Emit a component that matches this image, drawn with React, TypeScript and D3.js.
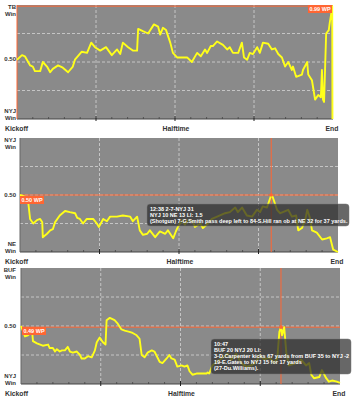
import React from "react";
import * as d3 from "d3";

// Panel 1: TB vs NYJ (minutes, TB win probability)
const tbMin = [0, 0.95, 1.5, 2.5, 3.0, 3.4, 4.4, 4.9, 5.7, 6.3, 6.8, 7.8, 8.7, 9.7, 10.6, 11.0, 12.3, 13.3, 14.1, 14.8, 15.8, 16.9, 18.0, 19.0, 19.6, 20.1, 21.1, 22.0, 22.8, 23.0, 23.9, 24.9, 26.0, 26.8, 27.2, 27.7, 28.3, 29.1, 29.6, 30.4, 31.3, 32.3, 33.2, 34.2, 34.9, 35.7, 36.1, 36.8, 37.2, 38.0, 39.1, 39.9, 40.4, 41.0, 42.0, 42.7, 43.1, 43.7, 44.2, 44.8, 45.6, 46.1, 46.7, 47.7, 48.4, 49.0, 49.6, 50.3, 50.9, 51.5, 52.2, 52.4, 53.0, 54.1, 54.3, 55.1, 55.3, 56.0, 56.6, 57.2, 57.7, 57.9, 58.1, 58.3, 58.7, 59.2, 59.4, 59.8, 59.85, 59.9];
const tbWp = [0.52, 0.56, 0.55, 0.47, 0.46, 0.42, 0.42, 0.50, 0.46, 0.41, 0.44, 0.47, 0.45, 0.41, 0.46, 0.52, 0.59, 0.58, 0.67, 0.63, 0.60, 0.63, 0.56, 0.61, 0.57, 0.67, 0.63, 0.60, 0.60, 0.79, 0.77, 0.75, 0.83, 0.81, 0.74, 0.80, 0.78, 0.67, 0.58, 0.54, 0.54, 0.54, 0.50, 0.58, 0.55, 0.61, 0.58, 0.64, 0.64, 0.68, 0.65, 0.61, 0.63, 0.58, 0.58, 0.67, 0.54, 0.52, 0.58, 0.57, 0.63, 0.58, 0.67, 0.66, 0.61, 0.62, 0.57, 0.54, 0.46, 0.50, 0.43, 0.46, 0.37, 0.39, 0.43, 0.50, 0.39, 0.34, 0.17, 0.21, 0.19, 0.43, 0.17, 0.15, 0.75, 0.78, 0.85, 0.96, 0.99, 0.0];

// Panel 2: NYJ vs NE (minutes, NYJ win probability)
const neMin = [0, 1.3, 1.5, 1.9, 2.5, 3.2, 3.8, 4.2, 4.3, 5.1, 5.7, 6.2, 6.6, 7.5, 8.5, 9.4, 10.4, 10.8, 11.3, 11.9, 12.6, 13.8, 14.5, 14.9, 15.7, 16.4, 17.0, 18.3, 19.4, 20.8, 21.3, 22.1, 22.6, 23.2, 24.0, 24.5, 25.5, 26.4, 27.4, 27.9, 28.9, 29.4, 29.8, 30.6, 31.1, 31.7, 32.6, 33.0, 34.0, 34.5, 35.5, 36.2, 37.2, 38.7, 39.6, 40.6, 41.1, 41.9, 42.8, 43.8, 44.7, 45.3, 45.8, 46.6, 47.4, 47.7, 48.5, 49.1, 49.6, 50.6, 51.3, 52.1, 52.5, 53.2, 53.8, 54.2, 54.7, 55.1, 56.0, 57.0, 57.9, 58.5, 59.1, 60];
const neWp = [0.50, 0.48, 0.46, 0.29, 0.25, 0.28, 0.29, 0.26, 0.13, 0.16, 0.19, 0.20, 0.26, 0.32, 0.36, 0.35, 0.34, 0.30, 0.29, 0.25, 0.29, 0.29, 0.25, 0.22, 0.29, 0.27, 0.31, 0.31, 0.32, 0.31, 0.27, 0.31, 0.19, 0.15, 0.16, 0.19, 0.13, 0.18, 0.16, 0.19, 0.12, 0.18, 0.22, 0.28, 0.24, 0.28, 0.27, 0.22, 0.25, 0.21, 0.25, 0.29, 0.31, 0.34, 0.35, 0.39, 0.35, 0.39, 0.32, 0.31, 0.37, 0.35, 0.40, 0.39, 0.50, 0.48, 0.37, 0.34, 0.35, 0.37, 0.31, 0.32, 0.19, 0.21, 0.28, 0.37, 0.30, 0.19, 0.17, 0.11, 0.12, 0.13, 0.02, 0.0];

// Panel 3: BUF vs NYJ (minutes, BUF win probability)
const bufMin = [0, 0.75, 1.3, 2.1, 2.25, 3.0, 4.1, 5.1, 5.4, 6.0, 6.4, 6.75, 7.3, 7.7, 8.25, 8.8, 9.2, 9.75, 10.5, 11.1, 11.4, 12.0, 12.6, 13.3, 13.9, 14.25, 14.8, 15.4, 15.9, 16.1, 16.7, 17.6, 18.2, 18.9, 19.5, 20.4, 21.0, 21.75, 22.3, 22.7, 23.25, 23.8, 24.6, 25.1, 26.1, 26.6, 27.4, 27.9, 28.3, 28.9, 29.4, 30.2, 30.75, 31.3, 31.7, 32.25, 33.0, 33.9, 34.9, 35.1, 35.4, 36.0, 36.75, 37.7, 38.8, 39.6, 40.5, 41.4, 42.4, 43.3, 44.25, 44.8, 45.75, 46.7, 47.6, 48.2, 48.6, 48.9, 49.1, 49.5, 49.9, 50.4, 51.75, 52.7, 53.6, 54.2, 54.6, 55.1, 56.1, 56.6, 57.4, 57.9, 58.5, 59.4, 60];
const bufWp = [0.50, 0.41, 0.42, 0.45, 0.37, 0.35, 0.33, 0.34, 0.31, 0.31, 0.28, 0.30, 0.28, 0.29, 0.29, 0.32, 0.28, 0.27, 0.28, 0.25, 0.22, 0.22, 0.24, 0.23, 0.29, 0.36, 0.40, 0.36, 0.34, 0.55, 0.57, 0.55, 0.52, 0.47, 0.46, 0.45, 0.44, 0.42, 0.39, 0.25, 0.23, 0.27, 0.29, 0.28, 0.19, 0.18, 0.22, 0.25, 0.22, 0.21, 0.15, 0.16, 0.15, 0.16, 0.11, 0.08, 0.09, 0.09, 0.09, 0.10, 0.09, 0.16, 0.19, 0.22, 0.26, 0.21, 0.26, 0.18, 0.15, 0.16, 0.19, 0.25, 0.21, 0.23, 0.18, 0.22, 0.45, 0.49, 0.42, 0.49, 0.27, 0.16, 0.18, 0.21, 0.16, 0.18, 0.08, 0.05, 0.06, 0.12, 0.05, 0.02, 0.03, 0.02, 0.01];

const periodLabels = ["Kickoff", "Halftime", "End"];
const tbLabels = ["TB", "NYJ"];
const neLabels = ["NYJ", "NE"];
const bufLabels = ["BUF", "NYJ"];
const midLabel = "0.50";

const neTip = [
  "12:38 2-7-NYJ 31",
  "NYJ 10 NE 13 LI: 1.5",
  "(Shotgun) 7-G.Smith pass deep left to 84-S.Hill ran ob at NE 32 for 37 yards.",
];
const bufTip = [
  "10:47",
  "BUF 20 NYJ 20 LI:",
  "3-D.Carpenter kicks 67 yards from BUF 35 to NYJ -2",
  "19-E.Gates to NYJ 15 for 17 yards",
  "(27-Du.Williams).",
];

const FONT = "'Liberation Sans', Arial, sans-serif";
const ORANGE = "#ff6633";
const LABEL = "#333";

type PanelProps = {
  left: number; right: number; top: number; bottom: number;
  minutes: number[]; wp: number[]; teams: string[];
  hover: { min: number; wp: number; label: string; labelX: number; labelY: number; vLineAtLeft?: boolean; dot?: boolean };
  tip?: { lines: string[]; x: number; y: number; w: number; h: number };
  midLabelDy: number;
};

function Panel(p: PanelProps) {
  const x = d3.scaleLinear().domain([0, 60]).range([p.left, p.right]);
  const y = d3.scaleLinear().domain([0, 1]).range([p.bottom, p.top]);
  const pts = p.minutes.map((m, i) => [m, p.wp[i]] as [number, number]);
  const line = d3.line<[number, number]>().x(d => x(d[0])).y(d => y(d[1]));
  const quarters = [15, 30, 45];
  const minorTicks = d3.range(3, 60, 3).filter(t => t % 15 !== 0);
  const hx = x(p.hover.min);
  const hy = y(p.hover.wp);
  return (
    <g>
      <rect x={p.left} y={p.top} width={p.right - p.left} height={p.bottom - p.top} fill="#8a8a8a" />
      {[0.25, 0.5, 0.75].map(v => (
        <line key={"h" + v} x1={p.left} x2={p.right} y1={y(v)} y2={y(v)} stroke="#d4d4d4" strokeWidth={0.8} strokeDasharray="3,2" />
      ))}
      {quarters.map(q => (
        <line key={"v" + q} x1={x(q)} x2={x(q)} y1={p.top} y2={p.bottom} stroke="#d4d4d4" strokeWidth={0.8} strokeDasharray="3,2" />
      ))}
      <line x1={p.left} x2={p.right} y1={p.bottom} y2={p.bottom} stroke="#444" strokeWidth={1} />
      <line x1={p.left} x2={p.left} y1={p.top} y2={p.bottom} stroke={p.hover.vLineAtLeft ? ORANGE : "#666"} strokeWidth={1} />
      {minorTicks.map(t => (
        <line key={"t" + t} x1={x(t)} x2={x(t)} y1={p.bottom - 2} y2={p.bottom} stroke="#444" strokeWidth={0.8} />
      ))}
      {quarters.map(q => (
        <line key={"q" + q} x1={x(q)} x2={x(q)} y1={p.bottom - 3} y2={p.bottom + 2} stroke="#222" strokeWidth={1} />
      ))}
      <line x1={p.left} x2={p.right} y1={hy} y2={hy} stroke={ORANGE} strokeWidth={1} />
      {!p.hover.vLineAtLeft && (
        <line x1={hx} x2={hx} y1={p.top} y2={p.bottom} stroke={ORANGE} strokeWidth={1} />
      )}
      <path d={line(pts) || ""} fill="none" stroke="#ffff1a" strokeWidth={1.9} strokeLinejoin="round" />
      {p.hover.dot && <circle cx={hx} cy={hy} r={1.8} fill={ORANGE} />}
      <rect x={p.hover.labelX} y={p.hover.labelY} width={24} height={8} fill={ORANGE} />
      <text x={p.hover.labelX + 12} y={p.hover.labelY + 6} textAnchor="middle" fontSize={5.5} fontWeight="bold" fill="#fff" fontFamily={FONT}>{p.hover.label}</text>
      {p.tip && (
        <g>
          <rect x={p.tip.x} y={p.tip.y} width={p.tip.w} height={p.tip.h} rx={3} fill="rgba(45,45,45,0.72)" stroke="rgba(120,120,120,0.8)" strokeWidth={0.6} />
          {p.tip.lines.map((s, i) => (
            <text key={i} x={p.tip!.x + 3} y={p.tip!.y + 7 + i * 6} fontSize={5.5} fontWeight="bold" fill="#fff" fontFamily={FONT}>{s}</text>
          ))}
        </g>
      )}
      <g fontFamily={FONT} fontWeight="bold" fill={LABEL} fontSize={6}>
        <text x={16} y={p.top + 4} textAnchor="end">{p.teams[0]}</text>
        <text x={16} y={p.top + 11} textAnchor="end">Win</text>
        <text x={16} y={y(0.5) + 2 + p.midLabelDy} textAnchor="end">{midLabel}</text>
        <text x={16} y={p.bottom - 6} textAnchor="end">{p.teams[1]}</text>
        <text x={16} y={p.bottom + 1} textAnchor="end">Win</text>
      </g>
      <g fontFamily={FONT} fontWeight="bold" fill={LABEL} fontSize={6.8}>
        <text x={5} y={p.bottom + 11.5}>{periodLabels[0]}</text>
        <text x={x(30) + 1} y={p.bottom + 11.5} textAnchor="middle">{periodLabels[1]}</text>
        <text x={x(60) - 1} y={p.bottom + 11.5} textAnchor="middle">{periodLabels[2]}</text>
      </g>
    </g>
  );
}

export default function App() {
  return (
    <svg width={355} height={400} style={{ position: "absolute", left: 0, top: 0, background: "#fff" }}>
      <Panel left={17} right={333} top={5} bottom={119} minutes={tbMin} wp={tbWp} teams={tbLabels}
        hover={{ min: 60, wp: 0.99, label: "0.99 WP", labelX: 308, labelY: 5, vLineAtLeft: true }}
        midLabelDy={-3} />
      <Panel left={20} right={338} top={138} bottom={252} minutes={neMin} wp={neWp} teams={neLabels}
        hover={{ min: 47.4, wp: 0.5, label: "0.50 WP", labelX: 20, labelY: 196, dot: true }}
        tip={{ lines: neTip, x: 147, y: 204, w: 202, h: 22 }}
        midLabelDy={0} />
      <Panel left={21} right={340} top={268} bottom={384} minutes={bufMin} wp={bufWp} teams={bufLabels}
        hover={{ min: 48.9, wp: 0.49, label: "0.49 WP", labelX: 22, labelY: 327, dot: true }}
        tip={{ lines: bufTip, x: 211, y: 339, w: 140, h: 35 }}
        midLabelDy={0} />
    </svg>
  );
}
